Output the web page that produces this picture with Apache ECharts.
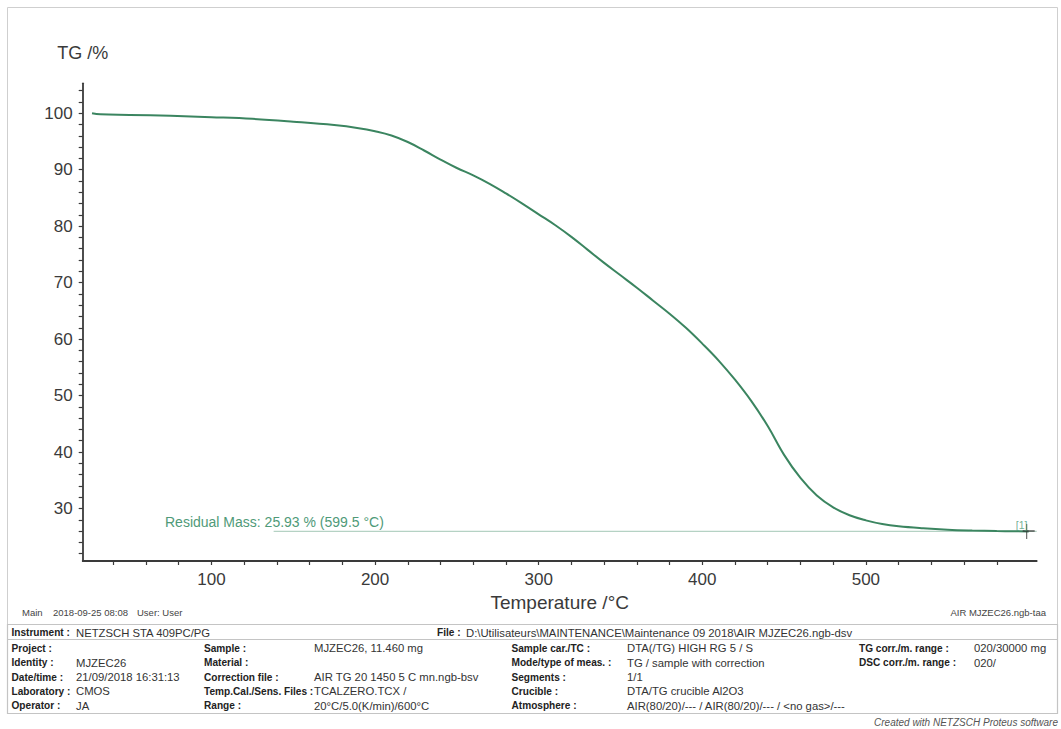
<!DOCTYPE html>
<html>
<head>
<meta charset="utf-8">
<script src="https://cdn.jsdelivr.net/npm/echarts@6/dist/echarts.min.js"></script>
<style>
html,body{margin:0;padding:0;background:#fff;}
#c{width:1061px;height:729px;}
</style>
</head>
<body>
<div id="c"></div>
<script>
// ---- data ----
const tempC = [27, 32, 50, 75, 100, 125, 150, 175, 190, 200, 210, 220, 230, 240, 250, 260, 270, 280, 290, 300, 310, 320, 330, 340, 350, 360, 370, 380, 390, 400, 410, 420, 430, 440, 450, 460, 470, 480, 490, 500, 510, 520, 535, 550, 565, 580, 590, 599.5];
const tgPct = [100.0, 99.8, 99.7, 99.55, 99.3, 99.0, 98.5, 97.9, 97.35, 96.8, 96.05, 94.9, 93.4, 91.8, 90.3, 89.0, 87.5, 85.8, 84.0, 82.1, 80.2, 78.1, 75.8, 73.5, 71.3, 69.1, 66.8, 64.5, 62.0, 59.2, 56.2, 52.8, 49.0, 44.6, 39.5, 35.4, 32.3, 30.2, 28.8, 27.9, 27.25, 26.85, 26.5, 26.25, 26.1, 26.0, 25.96, 25.93];
const residualMass = 25.93;
const residualTemp = 599.5;
const residualLineTemps = [138, 604.4];
const xLabelValues = [100, 200, 300, 400, 500];
const xTickValues = [40, 60, 80, 100, 120, 140, 160, 180, 200, 220, 240, 260, 280, 300, 320, 340, 360, 380, 400, 420, 440, 460, 480, 500, 520, 540, 560, 580];
const yLabelValues = [30, 40, 50, 60, 70, 80, 90, 100];
const yTickValues = [22, 24, 26, 28, 30, 32, 34, 36, 38, 40, 42, 44, 46, 48, 50, 52, 54, 56, 58, 60, 62, 64, 66, 68, 70, 72, 74, 76, 78, 80, 82, 84, 86, 88, 90, 92, 94, 96, 98, 100, 102, 104];
const residualText = 'Residual Mass: 25.93 % (599.5 °C)';
const curveTag = '[1]';

const footerLeft = ['Main', '2018-09-25 08:08', 'User: User'];
const footerRight = 'AIR MJZEC26.ngb-taa';
const instrumentRow = [['Instrument :', 'NETZSCH STA 409PC/PG'], ['File :', 'D:\\Utilisateurs\\MAINTENANCE\\Maintenance 09 2018\\AIR MJZEC26.ngb-dsv']];
const infoCol1 = [['Project :', ''], ['Identity :', 'MJZEC26'], ['Date/time :', '21/09/2018 16:31:13'], ['Laboratory :', 'CMOS'], ['Operator :', 'JA']];
const infoCol2 = [['Sample :', 'MJZEC26, 11.460 mg'], ['Material :', ''], ['Correction file :', 'AIR TG 20 1450 5 C mn.ngb-bsv'], ['Temp.Cal./Sens. Files :', 'TCALZERO.TCX /'], ['Range :', '20°C/5.0(K/min)/600°C']];
const infoCol3 = [['Sample car./TC :', 'DTA(/TG) HIGH RG 5 / S'], ['Mode/type of meas. :', 'TG / sample with correction'], ['Segments :', '1/1'], ['Crucible :', 'DTA/TG crucible Al2O3'], ['Atmosphere :', 'AIR(80/20)/--- / AIR(80/20)/--- / <no gas>/---']];
const infoCol4 = [['TG corr./m. range :', '020/30000 mg'], ['DSC corr./m. range :', '020/']];
const creditText = 'Created with NETZSCH Proteus software';

// ---- build ----
const FF = '"Liberation Sans", Arial, Helvetica, sans-serif';
const curveData = tempC.map((t, i) => [t, tgPct[i]]);
const residualData = residualLineTemps.map(t => [t, residualMass]);

function txt(x, y, s, size, opts) {
  opts = opts || {};
  const weight = opts.bold ? 'bold' : 'normal';
  const style = opts.italic ? 'italic' : 'normal';
  return {
    type: 'text', x: x, y: y, silent: true, z: 10,
    style: {
      text: s,
      fill: opts.color || '#333',
      font: style + ' ' + weight + ' ' + size + 'px ' + FF,
      align: opts.align || 'left', textAlign: opts.align || 'left',
      verticalAlign: 'middle', textVerticalAlign: 'middle'
    }
  };
}

const graphics = [];
// frames
graphics.push({type: 'rect', z: -1, silent: true, shape: {x: 7.5, y: 7.5, width: 1050, height: 617}, style: {fill: 'none', stroke: '#cfcfcf', lineWidth: 1}});
graphics.push({type: 'rect', z: -1, silent: true, shape: {x: 7.5, y: 624.5, width: 1050, height: 89}, style: {fill: 'none', stroke: '#c4c4c4', lineWidth: 1.2}});
graphics.push({type: 'line', z: -1, silent: true, shape: {x1: 7.5, y1: 639.5, x2: 1057.5, y2: 639.5}, style: {stroke: '#c4c4c4', lineWidth: 1.2}});

// residual annotation
graphics.push(txt(165, 522, residualText, 14, {color: '#4f9a78'}));

// footer line
const footerX = [22, 53, 137];
footerLeft.forEach((s, i) => graphics.push(txt(footerX[i], 612, s, 9.5, {color: '#444'})));
graphics.push(txt(1046, 612.5, footerRight, 9.5, {color: '#444', align: 'right'}));

// table
const TS = 11.3;
const LS = 10.1;
graphics.push(txt(11.5, 632.5, instrumentRow[0][0], LS, {bold: true, color: '#222'}));
graphics.push(txt(76, 632.5, instrumentRow[0][1], TS));
graphics.push(txt(437, 632.5, instrumentRow[1][0], LS, {bold: true, color: '#222'}));
graphics.push(txt(466, 632.5, instrumentRow[1][1], TS));
const rowY = [648, 662.7, 677.2, 691.4, 705.9];
const cols = [[infoCol1, 11.5, 76], [infoCol2, 204, 314], [infoCol3, 511.5, 627], [infoCol4, 859, 974]];
cols.forEach(c => {
  c[0].forEach((pair, i) => {
    graphics.push(txt(c[1], rowY[i], pair[0], LS, {bold: true, color: '#222'}));
    if (pair[1]) graphics.push(txt(c[2], rowY[i], pair[1], TS));
  });
});
graphics.push(txt(1058, 722, creditText, 10, {italic: true, color: '#555', align: 'right'}));

const chart = echarts.init(document.getElementById('c'), null, {renderer: 'svg'});
chart.setOption({
  backgroundColor: '#fff',
  animation: false,
  textStyle: {fontFamily: FF},
  grid: {left: 82.7, right: 24.3, top: 83.3, bottom: 168, containLabel: false},
  xAxis: {
    type: 'value', min: 21.3, max: 604.4,
    name: 'Temperature /°C', nameLocation: 'middle', nameGap: 28,
    nameTextStyle: {fontSize: 19, color: '#3a3a3a', fontFamily: FF},
    axisLine: {show: true, lineStyle: {color: '#3a3a3a', width: 1.8}},
    axisTick: {show: true, inside: false, length: 4, customValues: xTickValues, lineStyle: {color: '#3a3a3a', width: 1.2}},
    axisLabel: {show: true, customValues: xLabelValues, margin: 10, fontSize: 17, color: '#3a3a3a', fontFamily: FF},
    splitLine: {show: false}
  },
  yAxis: {
    type: 'value', min: 20.7, max: 105.3,
    name: 'TG /%', nameLocation: 'end', nameGap: 21,
    nameTextStyle: {fontSize: 18, color: '#3a3a3a', fontFamily: FF, align: 'center'},
    axisLine: {show: true, lineStyle: {color: '#3a3a3a', width: 1.8}},
    axisTick: {show: true, inside: false, length: 4, customValues: yTickValues, lineStyle: {color: '#3a3a3a', width: 1.2}},
    axisLabel: {show: true, customValues: yLabelValues, margin: 10, fontSize: 17, color: '#3a3a3a', fontFamily: FF},
    splitLine: {show: false}
  },
  series: [
    {
      type: 'line', name: 'residual', data: residualData, symbol: 'none', silent: true,
      lineStyle: {color: '#b5d2c4', width: 1.3}, z: 2
    },
    {
      type: 'line', name: 'TG', data: curveData, symbol: 'none', smooth: 0.4,
      lineStyle: {color: '#3b8560', width: 2}, z: 3
    },
    {
      type: 'scatter', name: 'mark', data: [[residualTemp, residualMass]],
      symbol: 'path://M0,7 L12,7 M4,0 L4,15', symbolSize: [12, 15], symbolKeepAspect: false,
      itemStyle: {color: 'none', borderColor: '#333', borderWidth: 1.2}, z: 4,
      label: {show: true, formatter: curveTag, position: 'top', distance: 3, offset: [-7, 12], fontSize: 10.5, color: '#4f9a78', fontFamily: FF}
    }
  ],
  graphic: graphics
});
</script>
</body>
</html>
